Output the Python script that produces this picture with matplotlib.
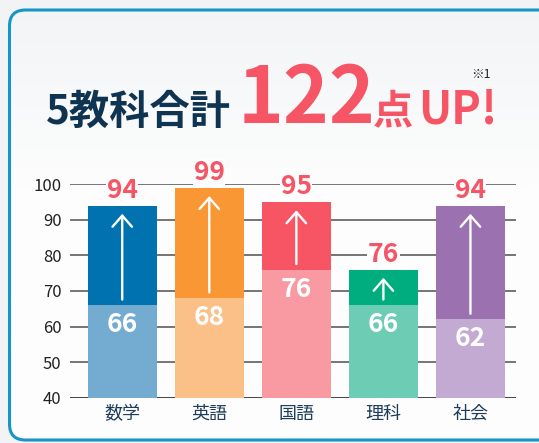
import numpy as np
import matplotlib.pyplot as plt
from matplotlib.patches import FancyBboxPatch
from matplotlib.colors import LinearSegmentedColormap

plt.rcParams['font.family'] = ['Noto Sans CJK JP', 'DejaVu Sans']

# data
subjects = ['数学', '英語', '国語', '理科', '社会']
before = [66, 68, 76, 66, 62]
after = [94, 99, 95, 76, 94]
col_before = ['#74abd0', '#fbbf88', '#f999a2', '#6ccdb4', '#c3aad3']
col_after = ['#0072b0', '#f89734', '#f75464', '#00ad7e', '#9b71b0']
yticks = [40, 50, 60, 70, 80, 90, 100]

W, H = 539, 443
fig = plt.figure(figsize=(W/100, H/100), dpi=100)
fig.patch.set_facecolor('#f1f3f5')

# rounded frame with soft gradient (grey at top, white lower down)
bg = fig.add_axes([0, 0, 1, 1])
bg.set_xlim(0, W)
bg.set_ylim(H, 0)
bg.axis('off')
box = FancyBboxPatch((9.5, 10), W + 20, H - 13, boxstyle='round,pad=0,rounding_size=16',
                     fc='none', ec='#1796c6', lw=2.2, zorder=3)
bg.add_patch(box)
grad = np.clip(np.linspace(0, H / 190., 256), 0, 1).reshape(-1, 1)
cmap = LinearSegmentedColormap.from_list('g', ['#f2f4f6', '#fdfdfd'])
im = bg.imshow(grad, extent=(0, W + 40, H, 0), aspect='auto', cmap=cmap, zorder=1)
im.set_clip_path(box)

# title
red = '#f65566'
navy = '#0e3452'
fig.text(46/W, 1 - 124/H, '5教科合計', fontsize=29, fontweight='bold', color=navy, va='baseline')
fig.text(238/W, 1 - 123/H, '122', fontsize=56, fontweight='bold', color=red, va='baseline')
fig.text(373/W, 1 - 123/H, '点', fontsize=29, fontweight='bold', color=red, va='baseline')
fig.text(418/W, 1 - 123/H, 'UP!', fontsize=32, fontweight='bold', color=red, va='baseline')
fig.text(471/W, 1 - 75/H, '※1', fontsize=9, color='#222222', va='center')

# chart
ax = fig.add_axes([70/W, 1 - 397.7/H, 445.7/W, 213.4/H])
ax.patch.set_alpha(0)
x = np.arange(len(subjects))
ax.set_xlim(-0.6, 4.52)
ax.set_ylim(40, 100)
for s in ax.spines.values():
    s.set_visible(False)
for t in yticks:
    ax.axhline(t, color='#111111' if t == 40 else '#505050', lw=1.1, zorder=0)
ax.set_yticks(yticks)
ax.tick_params(axis='y', length=0, pad=6, labelsize=12, labelcolor='#222222')
ax.set_xticks(x)
ax.set_xticklabels(subjects, fontsize=13, color='#1d3d5a')
ax.tick_params(axis='x', length=0, pad=5)

ax.bar(x, np.array(before) - 40, bottom=40, width=0.79, color=col_before, zorder=2)
ax.bar(x, np.array(after) - np.array(before), bottom=before, width=0.79, color=col_after, zorder=2)

for i in range(len(subjects)):
    ax.annotate('', xy=(i, after[i] - 2.3), xytext=(i, before[i] + 1.6),
                arrowprops=dict(arrowstyle='->,head_length=0.4,head_width=0.35', color='white',
                                lw=1.7, mutation_scale=20, shrinkA=0, shrinkB=0), zorder=4)
    ax.annotate(str(after[i]), xy=(i, after[i]), xytext=(0, 11), textcoords='offset points',
                ha='center', va='center', fontsize=19, fontweight='bold', color=red,
                bbox=dict(boxstyle='square,pad=0.02', fc='#fdfdfd', ec='none'), zorder=5,
                annotation_clip=False)
    ax.annotate(str(before[i]), xy=(i, before[i]), xytext=(0, -14), textcoords='offset points',
                ha='center', va='center', fontsize=19, fontweight='bold', color='white', zorder=5)

fig.savefig('out.png', dpi=100, facecolor=fig.get_facecolor())
